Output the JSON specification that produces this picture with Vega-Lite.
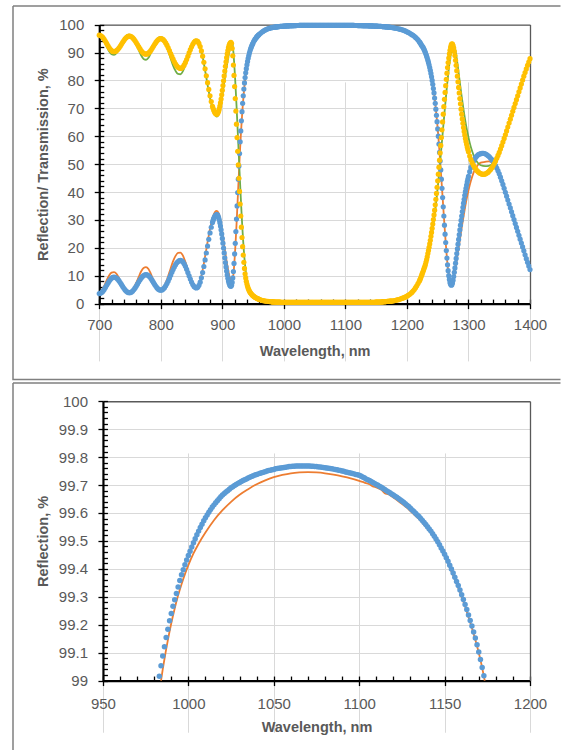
{
"$schema":"https://vega.github.io/schema/vega-lite/v6.json",
"usermeta":{"embedOptions":{"actions":false}},
"background":"#ffffff",
"padding":{"left":12,"top":5,"right":0,"bottom":0},
"spacing":1,
"config":{
 "view":{"stroke":null},
 "axis":{"labelFont":"Liberation Sans","labelFontSize":15,"labelColor":"#595959","titleFont":"Liberation Sans","titleFontSize":14.5,"titleFontWeight":"bold","titleColor":"#595959","domainColor":"#000000","domainWidth":2.2,"tickColor":"#000000","tickWidth":1.3,"gridColor":"#d9d9d9","gridWidth":1,"labelOverlap":false,"labelFlush":false}
},
"datasets":{
"main":[
{"w":700,"r":3.6,"t":96.2},{"w":702,"r":3.7,"t":96.1},{"w":704,"r":4.0,"t":95.8},{"w":706,"r":4.46,"t":95.34},{"w":708,"r":5.08,"t":94.72},{"w":710,"r":5.79,"t":94.01},{"w":712,"r":6.55,"t":93.25},{"w":714,"r":7.31,"t":92.49},{"w":716,"r":8.03,"t":91.77},{"w":718,"r":8.64,"t":91.16},{"w":720,"r":9.1,"t":90.7},{"w":722,"r":9.4,"t":90.4},{"w":724,"r":9.5,"t":90.3},{"w":726,"r":9.41,"t":90.39},{"w":728,"r":9.15,"t":90.65},{"w":730,"r":8.74,"t":91.06},{"w":732,"r":8.2,"t":91.6},{"w":734,"r":7.57,"t":92.23},{"w":736,"r":6.87,"t":92.93},{"w":738,"r":6.17,"t":93.63},{"w":740,"r":5.51,"t":94.29},{"w":742,"r":4.91,"t":94.89},{"w":744,"r":4.43,"t":95.37},{"w":746,"r":4.1,"t":95.7},{"w":748,"r":3.92,"t":95.88},
{"w":750,"r":3.92,"t":95.88},{"w":752,"r":4.1,"t":95.7},{"w":754,"r":4.43,"t":95.37},{"w":756,"r":4.92,"t":94.88},{"w":758,"r":5.53,"t":94.27},{"w":760,"r":6.22,"t":93.58},{"w":762,"r":6.96,"t":92.84},{"w":764,"r":7.72,"t":92.08},{"w":766,"r":8.44,"t":91.36},{"w":768,"r":9.09,"t":90.71},{"w":770,"r":9.64,"t":90.16},{"w":772,"r":10.06,"t":89.74},{"w":774,"r":10.31,"t":89.49},{"w":776,"r":10.4,"t":89.4},{"w":778,"r":10.3,"t":89.5},{"w":780,"r":10.02,"t":89.78},{"w":782,"r":9.58,"t":90.22},{"w":784,"r":9.0,"t":90.8},{"w":786,"r":8.32,"t":91.48},{"w":788,"r":7.6,"t":92.2},{"w":790,"r":6.88,"t":92.92},{"w":792,"r":6.2,"t":93.6},{"w":794,"r":5.62,"t":94.18},{"w":796,"r":5.18,"t":94.62},{"w":798,"r":4.9,"t":94.9},
{"w":800,"r":4.8,"t":95.0},{"w":802,"r":4.9,"t":94.9},{"w":804,"r":5.21,"t":94.59},{"w":806,"r":5.7,"t":94.1},{"w":808,"r":6.36,"t":93.44},{"w":810,"r":7.18,"t":92.62},{"w":812,"r":8.1,"t":91.7},{"w":814,"r":9.1,"t":90.7},{"w":816,"r":10.15,"t":89.65},{"w":818,"r":11.2,"t":88.6},{"w":820,"r":12.19,"t":87.61},{"w":822,"r":13.12,"t":86.68},{"w":824,"r":13.94,"t":85.86},{"w":826,"r":14.6,"t":85.2},{"w":828,"r":15.09,"t":84.71},{"w":830,"r":15.4,"t":84.4},{"w":832,"r":15.5,"t":84.3},{"w":834,"r":15.36,"t":84.44},{"w":836,"r":14.94,"t":84.86},{"w":838,"r":14.26,"t":85.54},{"w":840,"r":13.36,"t":86.44},{"w":842,"r":12.31,"t":87.49},{"w":844,"r":11.14,"t":88.66},{"w":846,"r":9.96,"t":89.84},{"w":848,"r":8.79,"t":91.01},
{"w":850,"r":7.74,"t":92.06},{"w":852,"r":6.84,"t":92.96},{"w":854,"r":6.16,"t":93.64},{"w":856,"r":5.74,"t":94.06},{"w":858,"r":5.6,"t":94.2},{"w":860,"r":5.84,"t":93.96},{"w":862,"r":6.54,"t":93.26},{"w":864,"r":7.68,"t":92.12},{"w":866,"r":9.23,"t":90.57},{"w":868,"r":11.12,"t":88.68},{"w":870,"r":13.3,"t":86.5},{"w":872,"r":15.66,"t":84.14},{"w":874,"r":18.13,"t":81.67},{"w":876,"r":20.63,"t":79.17},{"w":878,"r":23.05,"t":76.75},{"w":880,"r":25.33,"t":74.47},{"w":882,"r":27.36,"t":72.44},{"w":884,"r":29.09,"t":70.71},{"w":885,"r":29.81,"t":69.99},{"w":886,"r":30.44,"t":69.36},{"w":887,"r":30.95,"t":68.85},{"w":888,"r":31.37,"t":68.43},{"w":889,"r":31.66,"t":68.14},{"w":890,"r":31.84,"t":67.96},{"w":891,"r":31.9,"t":67.9},{"w":892,"r":31.78,"t":68.02},{"w":893,"r":31.42,"t":68.38},{"w":894,"r":30.84,"t":68.96},{"w":895,"r":30.03,"t":69.77},{"w":896,"r":29.02,"t":70.78},{"w":897,"r":27.82,"t":71.98},{"w":898,"r":26.46,"t":73.34},{"w":899,"r":24.96,"t":74.84},
{"w":900,"r":23.35,"t":76.45},{"w":901,"r":21.66,"t":78.14},{"w":902,"r":19.93,"t":79.87},{"w":903,"r":18.18,"t":81.62},{"w":904,"r":16.44,"t":83.36},{"w":905,"r":14.74,"t":85.06},{"w":906,"r":13.14,"t":86.66},{"w":907,"r":11.64,"t":88.16},{"w":908,"r":10.29,"t":89.51},{"w":909,"r":9.08,"t":90.72},{"w":910,"r":8.07,"t":91.73},{"w":911,"r":7.27,"t":92.53},{"w":912,"r":6.68,"t":93.12},{"w":913,"r":6.32,"t":93.48},{"w":914,"r":6.2,"t":93.6},{"w":915,"r":6.6,"t":93.2},{"w":916,"r":7.6,"t":91.5},{"w":917,"r":9.2,"t":88.8},{"w":918,"r":11.5,"t":85.5},{"w":919,"r":14.4,"t":81.8},{"w":920,"r":17.8,"t":77.8},{"w":921,"r":21.6,"t":73.5},{"w":922,"r":25.8,"t":69.0},{"w":923,"r":30.3,"t":64.3},{"w":924,"r":35.0,"t":59.5},{"w":925,"r":39.8,"t":54.6},{"w":926,"r":44.6,"t":49.7},{"w":927,"r":49.3,"t":44.9},{"w":928,"r":53.8,"t":40.2},{"w":929,"r":58.0,"t":35.7},{"w":930,"r":61.9,"t":31.4},{"w":931,"r":65.5,"t":27.4},{"w":932,"r":68.8,"t":23.7},{"w":933,"r":71.8,"t":20.4},{"w":934,"r":74.5,"t":17.4},{"w":935,"r":76.9,"t":14.8},{"w":936,"r":79.1,"t":12.6},{"w":937,"r":81.0,"t":10.7},{"w":938,"r":82.7,"t":9.2},{"w":939,"r":84.2,"t":8.0},{"w":940,"r":85.6,"t":7.0},{"w":941,"r":86.8,"t":6.2},{"w":942,"r":87.9,"t":5.5},{"w":943,"r":88.9,"t":5.0},{"w":944,"r":89.8,"t":4.5},{"w":945,"r":90.6,"t":4.1},{"w":946,"r":91.3,"t":3.8},{"w":947,"r":91.9,"t":3.5},{"w":948,"r":92.5,"t":3.25},{"w":949,"r":93.0,"t":3.0},
{"w":950,"r":93.4,"t":2.8},{"w":951,"r":93.9,"t":2.6},{"w":952,"r":94.3,"t":2.45},{"w":953,"r":94.7,"t":2.3},{"w":954,"r":95.0,"t":2.15},{"w":955,"r":95.3,"t":2.0},{"w":956,"r":95.6,"t":1.9},{"w":957,"r":95.85,"t":1.8},{"w":958,"r":96.1,"t":1.7},{"w":959,"r":96.3,"t":1.6},{"w":960,"r":96.5,"t":1.5},{"w":962,"r":96.9,"t":1.35},{"w":964,"r":97.25,"t":1.2},{"w":966,"r":97.55,"t":1.1},{"w":968,"r":97.85,"t":1.0},{"w":970,"r":98.1,"t":0.9},{"w":972,"r":98.3,"t":0.85},{"w":974,"r":98.48,"t":0.8},{"w":976,"r":98.63,"t":0.75},{"w":978,"r":98.76,"t":0.7},{"w":980,"r":98.87,"t":0.65},{"w":981,"r":98.92,"t":0.63},{"w":982,"r":98.975,"t":0.61},{"w":983,"r":99.015,"t":0.6},{"w":984,"r":99.053,"t":0.59},{"w":985,"r":99.088,"t":0.58},{"w":986,"r":99.121,"t":0.57},{"w":987,"r":99.154,"t":0.56},{"w":988,"r":99.184,"t":0.55},{"w":989,"r":99.214,"t":0.54},{"w":990,"r":99.24,"t":0.53},{"w":991,"r":99.266,"t":0.52},{"w":992,"r":99.289,"t":0.51},{"w":993,"r":99.312,"t":0.5},{"w":994,"r":99.335,"t":0.5},{"w":995,"r":99.358,"t":0.49},{"w":996,"r":99.379,"t":0.49},{"w":997,"r":99.397,"t":0.48},{"w":998,"r":99.415,"t":0.48},{"w":999,"r":99.432,"t":0.47},
{"w":1000,"r":99.448,"t":0.47},{"w":1001,"r":99.463,"t":0.47},{"w":1002,"r":99.478,"t":0.46},{"w":1003,"r":99.493,"t":0.46},{"w":1004,"r":99.508,"t":0.46},{"w":1005,"r":99.522,"t":0.46},{"w":1006,"r":99.535,"t":0.46},{"w":1007,"r":99.548,"t":0.46},{"w":1008,"r":99.56,"t":0.46},{"w":1009,"r":99.572,"t":0.45},{"w":1010,"r":99.583,"t":0.45},{"w":1011,"r":99.593,"t":0.45},{"w":1012,"r":99.603,"t":0.45},{"w":1013,"r":99.612,"t":0.45},{"w":1014,"r":99.621,"t":0.45},{"w":1015,"r":99.629,"t":0.44},{"w":1016,"r":99.637,"t":0.44},{"w":1017,"r":99.644,"t":0.44},{"w":1018,"r":99.651,"t":0.44},{"w":1019,"r":99.658,"t":0.43},{"w":1020,"r":99.664,"t":0.43},{"w":1021,"r":99.67,"t":0.43},{"w":1022,"r":99.675,"t":0.43},{"w":1023,"r":99.68,"t":0.43},{"w":1024,"r":99.685,"t":0.43},{"w":1025,"r":99.69,"t":0.42},{"w":1026,"r":99.694,"t":0.42},{"w":1027,"r":99.698,"t":0.42},{"w":1028,"r":99.702,"t":0.42},{"w":1029,"r":99.706,"t":0.42},{"w":1030,"r":99.709,"t":0.42},{"w":1031,"r":99.713,"t":0.42},{"w":1032,"r":99.716,"t":0.42},{"w":1033,"r":99.719,"t":0.42},{"w":1034,"r":99.722,"t":0.42},{"w":1035,"r":99.725,"t":0.42},{"w":1036,"r":99.728,"t":0.42},{"w":1037,"r":99.731,"t":0.42},{"w":1038,"r":99.733,"t":0.42},{"w":1039,"r":99.736,"t":0.42},{"w":1040,"r":99.738,"t":0.42},{"w":1041,"r":99.74,"t":0.42},{"w":1042,"r":99.742,"t":0.42},{"w":1043,"r":99.744,"t":0.42},{"w":1044,"r":99.746,"t":0.42},{"w":1045,"r":99.748,"t":0.42},{"w":1046,"r":99.75,"t":0.42},{"w":1047,"r":99.752,"t":0.42},{"w":1048,"r":99.753,"t":0.42},{"w":1049,"r":99.755,"t":0.42},
{"w":1050,"r":99.756,"t":0.42},{"w":1051,"r":99.758,"t":0.42},{"w":1052,"r":99.759,"t":0.42},{"w":1053,"r":99.76,"t":0.42},{"w":1054,"r":99.761,"t":0.42},{"w":1055,"r":99.762,"t":0.42},{"w":1056,"r":99.763,"t":0.42},{"w":1057,"r":99.764,"t":0.42},{"w":1058,"r":99.765,"t":0.42},{"w":1059,"r":99.766,"t":0.42},{"w":1060,"r":99.766,"t":0.42},{"w":1061,"r":99.767,"t":0.42},{"w":1062,"r":99.767,"t":0.42},{"w":1063,"r":99.768,"t":0.42},{"w":1064,"r":99.768,"t":0.42},{"w":1065,"r":99.768,"t":0.42},{"w":1066,"r":99.768,"t":0.42},{"w":1067,"r":99.768,"t":0.42},{"w":1068,"r":99.768,"t":0.42},{"w":1069,"r":99.768,"t":0.42},{"w":1070,"r":99.768,"t":0.42},{"w":1071,"r":99.768,"t":0.42},{"w":1072,"r":99.767,"t":0.42},{"w":1073,"r":99.767,"t":0.42},{"w":1074,"r":99.766,"t":0.42},{"w":1075,"r":99.766,"t":0.42},{"w":1076,"r":99.765,"t":0.42},{"w":1077,"r":99.765,"t":0.42},{"w":1078,"r":99.764,"t":0.42},{"w":1079,"r":99.763,"t":0.42},{"w":1080,"r":99.762,"t":0.42},{"w":1081,"r":99.761,"t":0.42},{"w":1082,"r":99.76,"t":0.42},{"w":1083,"r":99.759,"t":0.42},{"w":1084,"r":99.758,"t":0.42},{"w":1085,"r":99.757,"t":0.42},{"w":1086,"r":99.756,"t":0.42},{"w":1087,"r":99.755,"t":0.42},{"w":1088,"r":99.753,"t":0.42},{"w":1089,"r":99.752,"t":0.42},{"w":1090,"r":99.75,"t":0.42},{"w":1091,"r":99.749,"t":0.42},{"w":1092,"r":99.747,"t":0.42},{"w":1093,"r":99.746,"t":0.42},{"w":1094,"r":99.744,"t":0.42},{"w":1095,"r":99.743,"t":0.42},{"w":1096,"r":99.741,"t":0.42},{"w":1097,"r":99.74,"t":0.42},{"w":1098,"r":99.738,"t":0.42},{"w":1099,"r":99.737,"t":0.42},
{"w":1100,"r":99.735,"t":0.42},{"w":1101,"r":99.732,"t":0.42},{"w":1102,"r":99.729,"t":0.42},{"w":1103,"r":99.726,"t":0.42},{"w":1104,"r":99.722,"t":0.42},{"w":1105,"r":99.719,"t":0.42},{"w":1106,"r":99.716,"t":0.42},{"w":1107,"r":99.713,"t":0.42},{"w":1108,"r":99.709,"t":0.42},{"w":1109,"r":99.706,"t":0.42},{"w":1110,"r":99.702,"t":0.42},{"w":1111,"r":99.699,"t":0.42},{"w":1112,"r":99.695,"t":0.42},{"w":1113,"r":99.692,"t":0.42},{"w":1114,"r":99.688,"t":0.42},{"w":1115,"r":99.684,"t":0.42},{"w":1116,"r":99.68,"t":0.42},{"w":1117,"r":99.676,"t":0.42},{"w":1118,"r":99.672,"t":0.42},{"w":1119,"r":99.668,"t":0.42},{"w":1120,"r":99.664,"t":0.42},{"w":1121,"r":99.66,"t":0.43},{"w":1122,"r":99.656,"t":0.43},{"w":1123,"r":99.652,"t":0.43},{"w":1124,"r":99.647,"t":0.43},{"w":1125,"r":99.643,"t":0.43},{"w":1126,"r":99.638,"t":0.43},{"w":1127,"r":99.633,"t":0.44},{"w":1128,"r":99.628,"t":0.44},{"w":1129,"r":99.623,"t":0.44},{"w":1130,"r":99.617,"t":0.44},{"w":1131,"r":99.611,"t":0.44},{"w":1132,"r":99.605,"t":0.44},{"w":1133,"r":99.599,"t":0.45},{"w":1134,"r":99.593,"t":0.45},{"w":1135,"r":99.587,"t":0.45},{"w":1136,"r":99.58,"t":0.45},{"w":1137,"r":99.573,"t":0.46},{"w":1138,"r":99.566,"t":0.46},{"w":1139,"r":99.559,"t":0.46},{"w":1140,"r":99.551,"t":0.46},{"w":1141,"r":99.543,"t":0.47},{"w":1142,"r":99.535,"t":0.47},{"w":1143,"r":99.526,"t":0.47},{"w":1144,"r":99.517,"t":0.47},{"w":1145,"r":99.507,"t":0.48},{"w":1146,"r":99.497,"t":0.48},{"w":1147,"r":99.486,"t":0.49},{"w":1148,"r":99.475,"t":0.49},{"w":1149,"r":99.464,"t":0.5},
{"w":1150,"r":99.452,"t":0.5},{"w":1151,"r":99.44,"t":0.5},{"w":1152,"r":99.427,"t":0.51},{"w":1153,"r":99.413,"t":0.52},{"w":1154,"r":99.399,"t":0.53},{"w":1155,"r":99.385,"t":0.54},{"w":1156,"r":99.37,"t":0.55},{"w":1157,"r":99.355,"t":0.56},{"w":1158,"r":99.34,"t":0.58},{"w":1159,"r":99.324,"t":0.6},{"w":1160,"r":99.307,"t":0.62},{"w":1161,"r":99.29,"t":0.64},{"w":1162,"r":99.272,"t":0.66},{"w":1163,"r":99.254,"t":0.68},{"w":1164,"r":99.235,"t":0.7},{"w":1165,"r":99.215,"t":0.72},{"w":1166,"r":99.195,"t":0.74},{"w":1167,"r":99.174,"t":0.76},{"w":1168,"r":99.152,"t":0.78},{"w":1169,"r":99.128,"t":0.8},{"w":1170,"r":99.102,"t":0.82},{"w":1171,"r":99.075,"t":0.84},{"w":1172,"r":99.047,"t":0.86},{"w":1173,"r":99.017,"t":0.88},{"w":1174,"r":98.986,"t":0.9},{"w":1175,"r":98.954,"t":0.92},
{"w":1176,"r":98.92,"t":0.93},{"w":1178,"r":98.85,"t":1.0},{"w":1180,"r":98.77,"t":1.1},{"w":1182,"r":98.69,"t":1.2},{"w":1184,"r":98.6,"t":1.3},{"w":1186,"r":98.5,"t":1.42},{"w":1188,"r":98.4,"t":1.55},{"w":1190,"r":98.28,"t":1.7},{"w":1192,"r":98.15,"t":1.85},{"w":1194,"r":98.0,"t":2.02},{"w":1196,"r":97.85,"t":2.2},{"w":1198,"r":97.64,"t":2.4},{"w":1200,"r":97.43,"t":2.65},{"w":1202,"r":97.2,"t":2.95},{"w":1204,"r":96.95,"t":3.25},{"w":1206,"r":96.7,"t":3.6},{"w":1208,"r":96.4,"t":4.0},{"w":1210,"r":96.15,"t":4.5},{"w":1212,"r":95.8,"t":5.05},{"w":1214,"r":95.4,"t":5.7},{"w":1216,"r":95.0,"t":6.4},{"w":1218,"r":94.5,"t":7.2},
{"w":1220,"r":93.95,"t":8.0},{"w":1221,"r":93.6,"t":8.5},{"w":1222,"r":93.3,"t":9.0},{"w":1223,"r":92.9,"t":9.6},{"w":1224,"r":92.5,"t":10.2},{"w":1225,"r":92.2,"t":10.8},{"w":1226,"r":91.9,"t":11.4},{"w":1227,"r":91.5,"t":12.0},{"w":1228,"r":91.0,"t":12.7},{"w":1229,"r":90.5,"t":13.3},{"w":1230,"r":90.0,"t":14.0},{"w":1231,"r":89.35,"t":14.9},{"w":1232,"r":88.7,"t":15.8},{"w":1233,"r":88.0,"t":16.8},{"w":1234,"r":87.25,"t":17.9},{"w":1235,"r":86.45,"t":19.0},{"w":1236,"r":85.6,"t":20.2},{"w":1237,"r":84.6,"t":21.4},{"w":1238,"r":83.6,"t":22.7},{"w":1239,"r":82.5,"t":24.1},{"w":1240,"r":81.3,"t":25.5},{"w":1241,"r":80.0,"t":27.0},{"w":1242,"r":78.6,"t":28.5},{"w":1243,"r":77.1,"t":30.1},{"w":1244,"r":75.5,"t":31.8},{"w":1245,"r":73.7,"t":33.5},{"w":1246,"r":71.8,"t":35.4},{"w":1247,"r":69.7,"t":37.4},{"w":1248,"r":67.5,"t":39.5},{"w":1249,"r":65.2,"t":41.7},
{"w":1250,"r":62.6,"t":44.0},{"w":1251,"r":60.0,"t":46.4},{"w":1252,"r":57.2,"t":48.9},{"w":1253,"r":54.2,"t":51.4},{"w":1254,"r":51.1,"t":54.0},{"w":1255,"r":47.9,"t":56.7},{"w":1256,"r":44.6,"t":59.5},{"w":1257,"r":41.3,"t":62.3},{"w":1258,"r":38.0,"t":65.1},{"w":1259,"r":34.7,"t":67.9},{"w":1260,"r":31.4,"t":70.6},{"w":1261,"r":28.1,"t":73.2},{"w":1262,"r":24.9,"t":75.7},{"w":1263,"r":21.9,"t":78.1},{"w":1264,"r":19.0,"t":80.4},{"w":1265,"r":16.3,"t":82.6},{"w":1266,"r":13.9,"t":84.6},{"w":1267,"r":11.8,"t":86.4},{"w":1268,"r":10.0,"t":88.0},{"w":1269,"r":8.6,"t":89.5},{"w":1270,"r":7.5,"t":90.8},{"w":1271,"r":6.9,"t":91.9},{"w":1272,"r":6.6,"t":92.7},{"w":1273,"r":6.8,"t":93.1},{"w":1274,"r":7.4,"t":93.0},{"w":1275,"r":8.4,"t":92.5},{"w":1276,"r":9.7,"t":91.6},{"w":1277,"r":11.2,"t":90.4},{"w":1278,"r":12.8,"t":88.9},{"w":1279,"r":14.5,"t":87.2},{"w":1280,"r":16.2,"t":85.4},{"w":1281,"r":17.9,"t":83.5},{"w":1282,"r":19.6,"t":81.5},{"w":1283,"r":21.3,"t":79.5},{"w":1284,"r":23.0,"t":77.5},{"w":1285,"r":24.7,"t":75.5},{"w":1286,"r":26.4,"t":73.5},{"w":1287,"r":28.1,"t":71.6},{"w":1288,"r":29.8,"t":69.7},{"w":1289,"r":31.4,"t":67.9},{"w":1290,"r":33.0,"t":66.2},{"w":1291,"r":34.5,"t":64.6},{"w":1292,"r":36.0,"t":63.1},{"w":1293,"r":37.4,"t":61.7},{"w":1294,"r":38.8,"t":60.4},{"w":1295,"r":40.1,"t":59.2},{"w":1296,"r":41.3,"t":58.1},{"w":1297,"r":42.5,"t":57.1},{"w":1298,"r":43.6,"t":56.1},{"w":1299,"r":44.6,"t":55.2},
{"w":1300,"r":45.6,"t":54.4},{"w":1302,"r":47.3,"t":52.9},{"w":1304,"r":48.8,"t":51.6},{"w":1306,"r":50.0,"t":50.5},{"w":1308,"r":51.0,"t":49.6},{"w":1310,"r":51.8,"t":48.8},{"w":1312,"r":52.5,"t":48.2},{"w":1314,"r":53.0,"t":47.6},{"w":1316,"r":53.4,"t":47.2},{"w":1318,"r":53.6,"t":46.8},{"w":1320,"r":53.75,"t":46.6},{"w":1322,"r":53.85,"t":46.4},{"w":1324,"r":53.85,"t":46.3},{"w":1326,"r":53.8,"t":46.4},{"w":1328,"r":53.6,"t":46.5},{"w":1330,"r":53.35,"t":46.8},{"w":1332,"r":53.0,"t":47.1},{"w":1334,"r":52.6,"t":47.6},{"w":1336,"r":52.1,"t":48.1},{"w":1338,"r":51.6,"t":48.7},{"w":1340,"r":51.0,"t":49.4},{"w":1342,"r":50.3,"t":50.2},{"w":1344,"r":49.5,"t":51.1},{"w":1346,"r":48.6,"t":52.1},{"w":1348,"r":47.6,"t":53.1},
{"w":1350,"r":46.5,"t":54.2},{"w":1352,"r":45.3,"t":55.4},{"w":1354,"r":44.0,"t":56.6},{"w":1356,"r":42.7,"t":57.9},{"w":1358,"r":41.3,"t":59.2},{"w":1360,"r":39.9,"t":60.5},{"w":1362,"r":38.5,"t":61.9},{"w":1364,"r":37.1,"t":63.3},{"w":1366,"r":35.7,"t":64.7},{"w":1368,"r":34.3,"t":66.1},{"w":1370,"r":32.9,"t":67.5},{"w":1372,"r":31.5,"t":68.9},{"w":1374,"r":30.1,"t":70.3},{"w":1376,"r":28.7,"t":71.7},{"w":1378,"r":27.3,"t":73.1},{"w":1380,"r":25.9,"t":74.5},{"w":1382,"r":24.5,"t":75.9},{"w":1384,"r":23.1,"t":77.3},{"w":1386,"r":21.7,"t":78.7},{"w":1388,"r":20.3,"t":80.1},{"w":1390,"r":18.9,"t":81.5},{"w":1392,"r":17.5,"t":82.8},{"w":1394,"r":16.1,"t":84.1},{"w":1396,"r":14.8,"t":85.4},{"w":1398,"r":13.5,"t":86.6},{"w":1400,"r":12.2,"t":87.8}
],
"alt":[
{"w":700,"o":3.8,"g":96.6},{"w":704,"o":4.6,"g":95.9},{"w":708,"o":6.3,"g":94.2},{"w":712,"o":8.3,"g":92.2},{"w":716,"o":10.1,"g":90.4},{"w":720,"o":11.1,"g":89.4},{"w":724,"o":11.3,"g":89.2},{"w":728,"o":10.7,"g":89.8},{"w":732,"o":9.2,"g":91.3},{"w":736,"o":7.3,"g":93.2},{"w":740,"o":5.6,"g":94.9},{"w":744,"o":4.4,"g":96.0},{"w":748,"o":3.95,"g":96.4},{"w":752,"o":4.3,"g":96.1},{"w":756,"o":5.6,"g":94.9},{"w":760,"o":7.4,"g":93.1},{"w":764,"o":9.5,"g":91.0},{"w":768,"o":11.5,"g":89.0},{"w":772,"o":12.8,"g":87.7},{"w":776,"o":13.1,"g":87.4},{"w":780,"o":12.4,"g":88.1},{"w":784,"o":10.6,"g":89.9},{"w":788,"o":8.4,"g":92.1},{"w":792,"o":6.5,"g":94.0},{"w":796,"o":5.3,"g":95.2},
{"w":800,"o":4.9,"g":95.6},{"w":804,"o":5.5,"g":95.0},{"w":808,"o":7.4,"g":93.1},{"w":812,"o":9.9,"g":90.6},{"w":816,"o":12.6,"g":87.9},{"w":820,"o":15.2,"g":85.3},{"w":824,"o":17.1,"g":83.4},{"w":828,"o":18.2,"g":82.3},{"w":832,"o":18.3,"g":82.2},{"w":836,"o":17.2,"g":83.3},{"w":840,"o":14.9,"g":85.6},{"w":844,"o":12.1,"g":88.4},{"w":848,"o":9.3,"g":91.2},{"w":852,"o":7.1,"g":93.4},{"w":856,"o":5.9,"g":94.6},{"w":860,"o":6.0,"g":94.5},{"w":864,"o":8.2,"g":92.3},{"w":868,"o":12.0,"g":88.5},{"w":872,"o":16.9,"g":83.6},{"w":876,"o":22.0,"g":78.5},{"w":880,"o":26.8,"g":73.7},{"w":884,"o":30.5,"g":70.0},{"w":888,"o":32.8,"g":67.7},{"w":891,"o":33.2,"g":67.0},{"w":894,"o":32.4,"g":67.8},{"w":897,"o":29.6,"g":70.6},
{"w":900,"o":25.6,"g":74.6},{"w":903,"o":21.0,"g":79.2},{"w":906,"o":16.5,"g":83.6},{"w":909,"o":12.6,"g":87.5},{"w":912,"o":9.4,"g":91.0},{"w":914,"o":8.4,"g":92.9},{"w":915,"o":8.3,"g":93.5},{"w":916,"o":8.5,"g":93.5},{"w":917,"o":9.1,"g":92.35},{"w":918,"o":10.4,"g":90.15},{"w":919,"o":12.9,"g":87.15},{"w":920,"o":16.1,"g":83.65},{"w":921,"o":19.7,"g":79.8},{"w":922,"o":23.7,"g":75.65},{"w":923,"o":28.0,"g":71.25},{"w":924,"o":32.6,"g":66.65},{"w":925,"o":37.4,"g":61.9},{"w":926,"o":42.2,"g":57.05},{"w":927,"o":46.9,"g":52.15},{"w":928,"o":51.5,"g":47.3},{"w":929,"o":55.9,"g":42.55},{"w":930,"o":60.0,"g":37.95},{"w":931,"o":63.7,"g":33.55},{"w":932,"o":67.1,"g":29.4},{"w":933,"o":70.3,"g":25.55},{"w":934,"o":73.1,"g":22.05},{"w":935,"o":75.7,"g":18.9},{"w":936,"o":78.0,"g":16.1},{"w":937,"o":80.0,"g":13.7},{"w":938,"o":81.8,"g":11.65},{"w":939,"o":83.4,"g":9.95},{"w":940,"o":84.9,"g":8.6},{"w":941,"o":86.2,"g":7.5},{"w":943,"o":88.4,"g":5.9},{"w":945,"o":90.2,"g":4.75},{"w":947,"o":91.6,"g":3.95},{"w":949,"o":92.75,"g":3.35},{"w":951,"o":93.65,"g":2.95},{"w":955,"o":94.85,"g":2.2},{"w":960,"o":96.2,"g":1.65},{"w":965,"o":97.3,"g":1.25},{"w":970,"o":97.95,"g":1.0},{"w":975,"o":98.45,"g":0.85},{"w":980,"o":98.8,"g":0.7},
{"w":984,"o":99.0,"g":0.65},{"w":985,"o":99.04,"g":0.64},{"w":986,"o":99.077,"g":0.63},{"w":988,"o":99.145,"g":0.6},{"w":990,"o":99.205,"g":0.58},{"w":992,"o":99.258,"g":0.56},{"w":994,"o":99.305,"g":0.55},{"w":996,"o":99.345,"g":0.53},{"w":998,"o":99.381,"g":0.52},{"w":1000,"o":99.413,"g":0.5},{"w":1003,"o":99.455,"g":0.5},{"w":1006,"o":99.49,"g":0.48},{"w":1010,"o":99.53,"g":0.47},{"w":1015,"o":99.574,"g":0.46},{"w":1020,"o":99.61,"g":0.45},{"w":1025,"o":99.64,"g":0.44},{"w":1030,"o":99.665,"g":0.43},{"w":1035,"o":99.685,"g":0.43},{"w":1040,"o":99.703,"g":0.42},{"w":1045,"o":99.717,"g":0.42},{"w":1050,"o":99.728,"g":0.42},{"w":1055,"o":99.736,"g":0.42},{"w":1060,"o":99.742,"g":0.42},{"w":1065,"o":99.745,"g":0.42},{"w":1070,"o":99.746,"g":0.42},{"w":1075,"o":99.745,"g":0.42},{"w":1080,"o":99.742,"g":0.42},{"w":1085,"o":99.737,"g":0.42},{"w":1090,"o":99.731,"g":0.42},{"w":1095,"o":99.724,"g":0.42},
{"w":1100,"o":99.715,"g":0.43},{"w":1103,"o":99.709,"g":0.43},{"w":1106,"o":99.703,"g":0.43},{"w":1108,"o":99.695,"g":0.43},{"w":1110,"o":99.692,"g":0.44},{"w":1113,"o":99.683,"g":0.44},{"w":1115,"o":99.671,"g":0.44},{"w":1117,"o":99.667,"g":0.45},{"w":1120,"o":99.655,"g":0.45},{"w":1123,"o":99.642,"g":0.46},{"w":1125,"o":99.633,"g":0.46},{"w":1128,"o":99.618,"g":0.47},{"w":1130,"o":99.607,"g":0.47},{"w":1133,"o":99.59,"g":0.48},{"w":1136,"o":99.572,"g":0.49},{"w":1139,"o":99.55,"g":0.5},{"w":1142,"o":99.528,"g":0.51},{"w":1145,"o":99.503,"g":0.52},{"w":1148,"o":99.47,"g":0.54},{"w":1150,"o":99.446,"g":0.56},{"w":1153,"o":99.405,"g":0.6},{"w":1156,"o":99.362,"g":0.64},{"w":1159,"o":99.316,"g":0.68},{"w":1162,"o":99.265,"g":0.73},{"w":1165,"o":99.208,"g":0.79},{"w":1168,"o":99.146,"g":0.85},{"w":1171,"o":99.074,"g":0.92},{"w":1173.5,"o":99.0,"g":0.98},{"w":1176,"o":98.9,"g":1.05},{"w":1180,"o":98.75,"g":1.2},{"w":1185,"o":98.52,"g":1.5},{"w":1190,"o":98.25,"g":1.85},{"w":1195,"o":97.88,"g":2.2},
{"w":1200,"o":97.4,"g":2.6},{"w":1206,"o":96.7,"g":3.5},{"w":1210,"o":96.1,"g":4.4},{"w":1215,"o":95.2,"g":5.8},{"w":1220,"o":93.9,"g":7.4},{"w":1225,"o":92.2,"g":9.9},{"w":1229,"o":90.5,"g":12.4},{"w":1232,"o":88.7,"g":14.7},{"w":1235,"o":86.4,"g":17.9},{"w":1238,"o":83.6,"g":21.4},{"w":1241,"o":80.0,"g":25.5},{"w":1244,"o":75.5,"g":30.0},{"w":1247,"o":69.7,"g":35.3},{"w":1249,"o":65.2,"g":39.4},{"w":1251,"o":60.0,"g":43.8},{"w":1253,"o":54.2,"g":48.5},{"w":1255,"o":47.9,"g":53.3},{"w":1257,"o":41.3,"g":58.3},{"w":1259,"o":34.7,"g":63.4},{"w":1261,"o":28.1,"g":68.3},{"w":1263,"o":21.9,"g":73.2},{"w":1265,"o":16.3,"g":77.8},{"w":1267,"o":11.8,"g":82.1},{"w":1269,"o":8.8,"g":85.9},{"w":1271,"o":7.3,"g":89.0},{"w":1273,"o":7.2,"g":91.3},{"w":1275,"o":8.2,"g":92.5},{"w":1277,"o":10.2,"g":92.2},{"w":1279,"o":12.8,"g":90.5},{"w":1281,"o":15.6,"g":87.8},{"w":1283,"o":18.5,"g":84.5},{"w":1285,"o":21.4,"g":81.0},{"w":1287,"o":24.3,"g":77.5},{"w":1289,"o":27.2,"g":74.2},{"w":1292,"o":31.3,"g":69.5},{"w":1295,"o":35.1,"g":65.3},{"w":1298,"o":38.5,"g":61.7},
{"w":1302,"o":42.4,"g":57.7},{"w":1306,"o":45.5,"g":54.6},{"w":1310,"o":47.8,"g":52.3},{"w":1315,"o":49.6,"g":50.5},{"w":1320,"o":50.5,"g":49.6},{"w":1327,"o":50.8,"g":49.3},{"w":1333,"o":51.0,"g":49.4},{"w":1338,"o":50.6,"g":49.9},{"w":1343,"o":49.3,"g":51.0},{"w":1348,"o":47.3,"g":53.0},{"w":1355,"o":43.1,"g":56.9},{"w":1365,"o":36.1,"g":64.0},{"w":1375,"o":29.1,"g":71.0},{"w":1385,"o":22.1,"g":78.0},{"w":1395,"o":15.35,"g":84.8},{"w":1400,"o":12.2,"g":87.8}
]
},
"vconcat":[
{
 "width":547.5,"height":373.5,
 "view":{"stroke":"#808080","strokeWidth":1.5,"strokeDash":[547.5,373.5,921,0]},
 "resolve":{"axis":{"x":"independent","y":"independent"}},
 "layer":[
  {"data":{"name":"alt"},"mark":{"type":"line","color":"#ED7D31","strokeWidth":1.8,"interpolate":"monotone"},
   "encoding":{
    "x":{"field":"w","type":"quantitative","scale":{"domain":[700,1400],"range":[86.25,517],"nice":false,"zero":false},
         "axis":{"orient":"bottom","offset":-75.9,"values":[700,800,900,1000,1100,1200,1300,1400],"format":"d","tickSize":5,"labelPadding":8.5,"grid":true,"title":"Wavelength, nm","titlePadding":12.5}},
    "y":{"field":"o","type":"quantitative","scale":{"domain":[0,100],"range":[297.6,18.6],"nice":false,"zero":false},
         "axis":{"orient":"left","offset":-86.25,"values":[0,10,20,30,40,50,60,70,80,90,100],"format":"d","tickSize":5,"labelPadding":10.5,"grid":true,"title":"Reflection/ Transmission, %","titlePadding":8.5}}}},
  {"data":{"name":"alt"},"mark":{"type":"line","color":"#70AD47","strokeWidth":1.8,"interpolate":"monotone"},
   "encoding":{
    "x":{"field":"w","type":"quantitative","scale":{"domain":[700,1400],"range":[86.25,517],"nice":false,"zero":false},
         "axis":{"orient":"bottom","offset":-75.9,"values":[700,720,740,760,780,800,820,840,860,880,900,920,940,960,980,1000,1020,1040,1060,1080,1100,1120,1140,1160,1180,1200,1220,1240,1260,1280,1300,1320,1340,1360,1380,1400],"tickSize":-4.5,"labels":false,"domain":false,"grid":false,"title":null}},
    "y":{"field":"g","type":"quantitative","scale":{"domain":[0,100],"range":[297.6,18.6],"nice":false,"zero":false},
         "axis":{"orient":"left","offset":-86.25,"values":[0,2,4,6,8,10,12,14,16,18,20,22,24,26,28,30,32,34,36,38,40,42,44,46,48,50,52,54,56,58,60,62,64,66,68,70,72,74,76,78,80,82,84,86,88,90,92,94,96,98,100],"tickSize":-4.5,"labels":false,"domain":false,"grid":false,"title":null}}}},
  {"data":{"name":"main"},"mark":{"type":"point","filled":true,"size":27,"opacity":1,"strokeWidth":0,"color":"#5B9BD5"},
   "encoding":{
    "x":{"field":"w","type":"quantitative","scale":{"domain":[700,1400],"range":[86.25,517],"nice":false,"zero":false},
         "axis":{"orient":"top","offset":-18.6,"ticks":false,"labels":false,"grid":false,"title":null,"domainColor":"#595959","domainWidth":1.3}},
    "y":{"field":"r","type":"quantitative","scale":{"domain":[0,100],"range":[297.6,18.6],"nice":false,"zero":false},
         "axis":{"orient":"right","offset":-30.5,"ticks":false,"labels":false,"grid":false,"title":null,"domainColor":"#595959","domainWidth":1.3}}}},
  {"data":{"name":"main"},"mark":{"type":"point","filled":true,"size":27,"opacity":1,"strokeWidth":0,"color":"#FFC000"},
   "encoding":{
    "x":{"field":"w","type":"quantitative","scale":{"domain":[700,1400],"range":[86.25,517],"nice":false,"zero":false},"axis":null},
    "y":{"field":"t","type":"quantitative","scale":{"domain":[0,100],"range":[297.6,18.6],"nice":false,"zero":false},"axis":null}}}
 ]
},
{
 "width":547.5,"height":367.5,
 "view":{"stroke":"#808080","strokeWidth":1.5,"strokeDash":[547.5,915,367.5,0]},
 "resolve":{"axis":{"x":"independent","y":"independent"}},
 "layer":[
  {"data":{"name":"alt"},"transform":[{"filter":"datum.w>=950 && datum.w<=1200 && datum.o>=99"}],
   "mark":{"type":"line","color":"#ED7D31","strokeWidth":1.8,"interpolate":"monotone"},
   "encoding":{
    "x":{"field":"w","type":"quantitative","scale":{"domain":[950,1200],"range":[89.95,517],"nice":false,"zero":false},
         "axis":{"orient":"bottom","offset":-69.95,"values":[950,1000,1050,1100,1150,1200],"format":"d","tickSize":5,"labelPadding":10.5,"grid":true,"title":"Wavelength, nm","titlePadding":9}},
    "y":{"field":"o","type":"quantitative","scale":{"domain":[99,100],"range":[297.55,18.25],"nice":false,"zero":false},
         "axis":{"orient":"left","offset":-89.95,"values":[99,99.1,99.2,99.3,99.4,99.5,99.6,99.7,99.8,99.9,100],"format":".1~f","tickSize":5,"labelPadding":10.4,"grid":true,"title":"Reflection, %","titlePadding":7.5}}}},
  {"data":{"name":"main"},"transform":[{"filter":"datum.w>=950 && datum.w<=1200 && datum.r>=99"}],
   "mark":{"type":"point","filled":true,"size":30,"opacity":1,"strokeWidth":0,"color":"#5B9BD5"},
   "encoding":{
    "x":{"field":"w","type":"quantitative","scale":{"domain":[950,1200],"range":[89.95,517],"nice":false,"zero":false},
         "axis":{"orient":"bottom","offset":-69.95,"values":[950,960,970,980,990,1000,1010,1020,1030,1040,1050,1060,1070,1080,1090,1100,1110,1120,1130,1140,1150,1160,1170,1180,1190,1200],"tickSize":-4.5,"labels":false,"domain":false,"grid":false,"title":null}},
    "y":{"field":"r","type":"quantitative","scale":{"domain":[99,100],"range":[297.55,18.25],"nice":false,"zero":false},
         "axis":{"orient":"left","offset":-89.95,"values":[99,99.02,99.04,99.06,99.08,99.1,99.12,99.14,99.16,99.18,99.2,99.22,99.24,99.26,99.28,99.3,99.32,99.34,99.36,99.38,99.4,99.42,99.44,99.46,99.48,99.5,99.52,99.54,99.56,99.58,99.6,99.62,99.64,99.66,99.68,99.7,99.72,99.74,99.76,99.78,99.8,99.82,99.84,99.86,99.88,99.9,99.92,99.94,99.96,99.98,100],"tickSize":-4.5,"labels":false,"domain":false,"grid":false,"title":null}}}},
  {"data":{"name":"alt"},"transform":[{"filter":"datum.w>=950 && datum.w<=1200 && datum.o>=99"}],
   "mark":{"type":"line","opacity":0},
   "encoding":{
    "x":{"field":"w","type":"quantitative","scale":{"domain":[950,1200],"range":[89.95,517],"nice":false,"zero":false},
         "axis":{"orient":"top","offset":-18.25,"ticks":false,"labels":false,"grid":false,"title":null,"domainColor":"#595959","domainWidth":1.3}},
    "y":{"field":"o","type":"quantitative","scale":{"domain":[99,100],"range":[297.55,18.25],"nice":false,"zero":false},
         "axis":{"orient":"right","offset":-30.5,"ticks":false,"labels":false,"grid":false,"title":null,"domainColor":"#595959","domainWidth":1.3}}}}
 ]
}
]
}
